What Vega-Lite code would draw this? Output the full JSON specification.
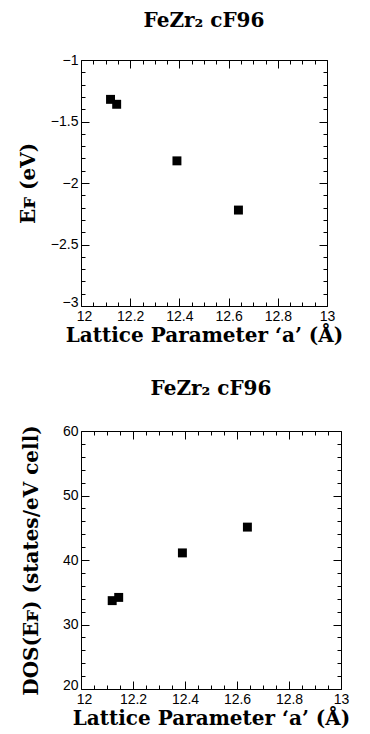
{
  "$schema": "https://vega.github.io/schema/vega-lite/v6.json",
  "background": "white",
  "padding": {"left": 17, "top": 10, "right": 0, "bottom": 0},
  "spacing": 32,
  "config": {
    "view": {"stroke": "black", "strokeWidth": 1},
    "axis": {
      "grid": false, "domain": false, "tickColor": "black", "labelColor": "black",
      "labelFont": "Liberation Sans", "labelFontSize": 14, "labelFontWeight": "normal",
      "titleFont": "DejaVu Serif", "titleFontSize": 20, "titleFontWeight": "bold", "titleColor": "black"
    },
    "title": {"font": "DejaVu Serif", "fontSize": 20, "fontWeight": "bold", "color": "black", "offset": 22}
  },
  "datasets": {
    "pts": [
      {"a": 12.12, "ef": -1.32, "dos": 33.7},
      {"a": 12.145, "ef": -1.36, "dos": 34.2},
      {"a": 12.39, "ef": -1.82, "dos": 41.1},
      {"a": 12.64, "ef": -2.22, "dos": 45.1}
    ]
  },
  "vconcat": [
    {
      "title": "FeZr₂ cF96",
      "width": 246, "height": 246,
      "data": {"name": "pts"},
      "layer": [
        {
          "mark": {"type": "square", "filled": true, "color": "black", "size": 80, "opacity": 1},
          "encoding": {
            "x": {"field": "a", "type": "quantitative", "scale": {"domain": [12, 13], "nice": false},
              "title": "Lattice Parameter ‘a’ (Å)",
              "axis": {"orient": "bottom", "values": [12,12.05,12.1,12.15,12.2,12.25,12.3,12.35,12.4,12.45,12.5,12.55,12.6,12.65,12.7,12.75,12.8,12.85,12.9,12.95,13],
                "labelExpr": "abs(datum.value*5-round(datum.value*5))<0.001 ? format(datum.value,'~g') : ''",
                "tickSize": {"condition": {"test": "abs(datum.value*5-round(datum.value*5))<0.001", "value": -8}, "value": -4},
                "labelOffset": {"condition": {"test": "datum.value == 12", "value": 3}, "value": 0},
                "labelPadding": 11, "titlePadding": 2, "labelFlush": false}},
            "y": {"field": "ef", "type": "quantitative", "scale": {"domain": [-3, -1], "nice": false},
              "title": "Eꜰ  (eV)",
              "axis": {"orient": "left", "values": [-3,-2.9,-2.8,-2.7,-2.6,-2.5,-2.4,-2.3,-2.2,-2.1,-2,-1.9,-1.8,-1.7,-1.6,-1.5,-1.4,-1.3,-1.2,-1.1,-1],
                "labelExpr": "abs(datum.value*2-round(datum.value*2))<0.001 ? format(datum.value,'~g') : ''",
                "tickSize": {"condition": {"test": "abs(datum.value*2-round(datum.value*2))<0.001", "value": -8}, "value": -4},
                "labelOffset": {"condition": {"test": "datum.value == -3", "value": -4}, "value": 0},
                "labelPadding": 11, "titlePadding": 12, "labelFlush": false}}
          }
        },
        {
          "mark": {"type": "square", "opacity": 0},
          "encoding": {
            "x": {"field": "a", "type": "quantitative",
              "axis": {"orient": "top", "labels": false, "title": null, "values": [12,12.05,12.1,12.15,12.2,12.25,12.3,12.35,12.4,12.45,12.5,12.55,12.6,12.65,12.7,12.75,12.8,12.85,12.9,12.95,13],
                "tickSize": {"condition": {"test": "abs(datum.value*5-round(datum.value*5))<0.001", "value": -8}, "value": -4}}},
            "y": {"field": "ef", "type": "quantitative",
              "axis": {"orient": "right", "labels": false, "title": null, "values": [-3,-2.9,-2.8,-2.7,-2.6,-2.5,-2.4,-2.3,-2.2,-2.1,-2,-1.9,-1.8,-1.7,-1.6,-1.5,-1.4,-1.3,-1.2,-1.1,-1],
                "tickSize": {"condition": {"test": "abs(datum.value*2-round(datum.value*2))<0.001", "value": -8}, "value": -4}}}
          }
        }
      ],
      "resolve": {"axis": {"x": "independent", "y": "independent"}}
    },
    {
      "title": "FeZr₂ cF96",
      "width": 260, "height": 258,
      "data": {"name": "pts"},
      "layer": [
        {
          "mark": {"type": "square", "filled": true, "color": "black", "size": 80, "opacity": 1},
          "encoding": {
            "x": {"field": "a", "type": "quantitative", "scale": {"domain": [12, 13], "nice": false},
              "title": "Lattice Parameter ‘a’ (Å)",
              "axis": {"orient": "bottom", "values": [12,12.05,12.1,12.15,12.2,12.25,12.3,12.35,12.4,12.45,12.5,12.55,12.6,12.65,12.7,12.75,12.8,12.85,12.9,12.95,13],
                "labelExpr": "abs(datum.value*5-round(datum.value*5))<0.001 ? format(datum.value,'~g') : ''",
                "tickSize": {"condition": {"test": "abs(datum.value*5-round(datum.value*5))<0.001", "value": -8}, "value": -4},
                "labelOffset": {"condition": {"test": "datum.value == 12", "value": 3}, "value": 0},
                "labelPadding": 11, "titlePadding": 2, "labelFlush": false}},
            "y": {"field": "dos", "type": "quantitative", "scale": {"domain": [20, 60], "nice": false},
              "title": "DOS(Eꜰ)  (states/eV cell)",
              "axis": {"orient": "left", "values": [20,22,24,26,28,30,32,34,36,38,40,42,44,46,48,50,52,54,56,58,60],
                "labelExpr": "datum.value % 10 == 0 ? format(datum.value,'~g') : ''",
                "tickSize": {"condition": {"test": "datum.value % 10 == 0", "value": -8}, "value": -4},
                "labelOffset": {"condition": {"test": "datum.value == 20", "value": -4}, "value": 0},
                "labelPadding": 11, "titlePadding": 21, "labelFlush": false}}
          }
        },
        {
          "mark": {"type": "square", "opacity": 0},
          "encoding": {
            "x": {"field": "a", "type": "quantitative",
              "axis": {"orient": "top", "labels": false, "title": null, "values": [12,12.05,12.1,12.15,12.2,12.25,12.3,12.35,12.4,12.45,12.5,12.55,12.6,12.65,12.7,12.75,12.8,12.85,12.9,12.95,13],
                "tickSize": {"condition": {"test": "abs(datum.value*5-round(datum.value*5))<0.001", "value": -8}, "value": -4}}},
            "y": {"field": "dos", "type": "quantitative",
              "axis": {"orient": "right", "labels": false, "title": null, "values": [20,22,24,26,28,30,32,34,36,38,40,42,44,46,48,50,52,54,56,58,60],
                "tickSize": {"condition": {"test": "datum.value % 10 == 0", "value": -8}, "value": -4}}}
          }
        }
      ],
      "resolve": {"axis": {"x": "independent", "y": "independent"}}
    }
  ]
}
